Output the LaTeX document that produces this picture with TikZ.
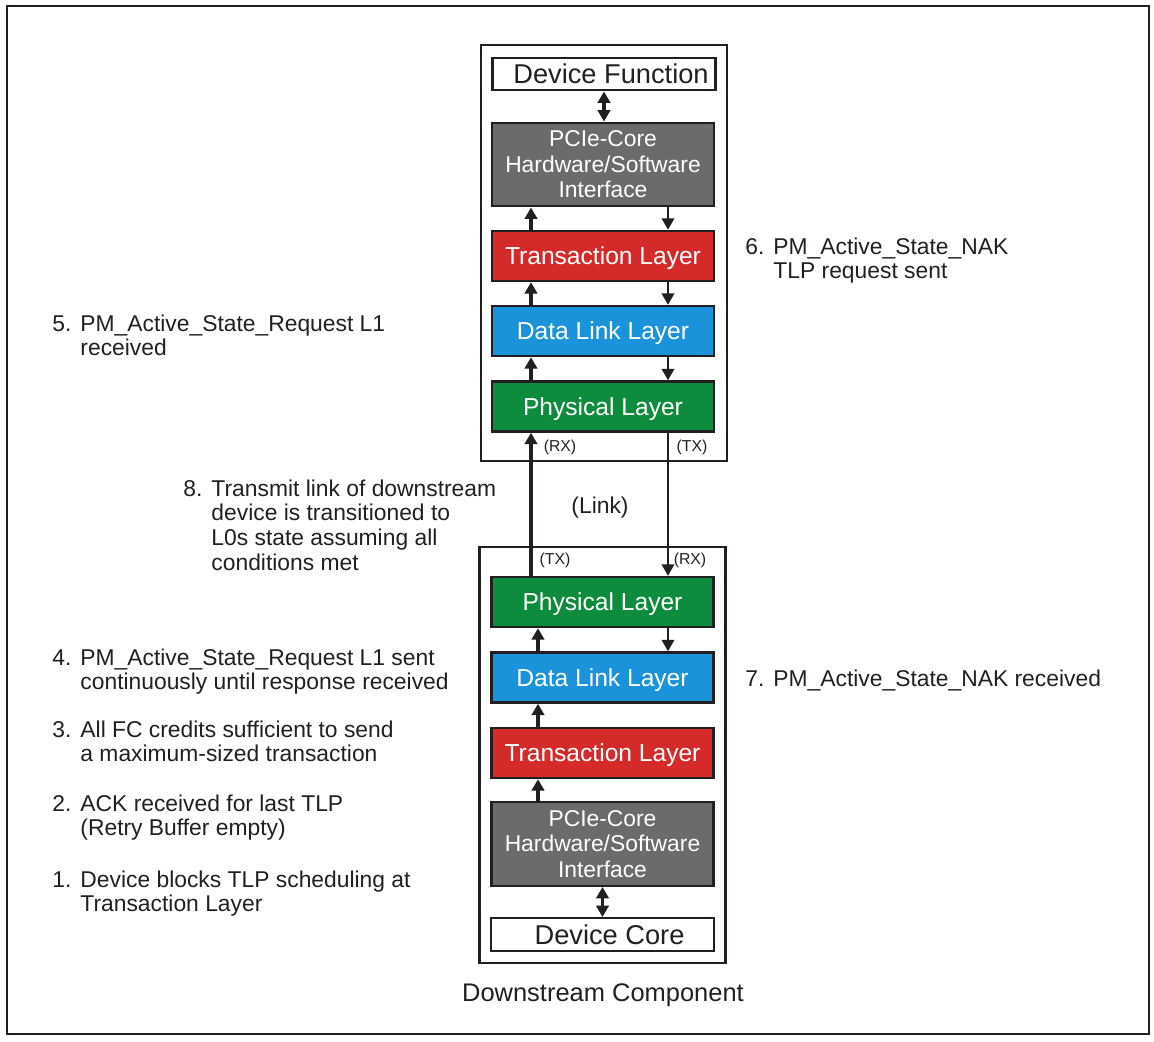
\documentclass[tikz,border=0pt]{standalone}
\usepackage{fontspec}
\setmainfont{Liberation Sans}
\usetikzlibrary{arrows.meta}
\definecolor{capagris}{RGB}{106,107,109}
\definecolor{caparoja}{RGB}{212,42,42}
\definecolor{capaazul}{RGB}{27,147,219}
\definecolor{capaverde}{RGB}{12,140,60}
\definecolor{tinta}{RGB}{35,31,32}
\newcommand{\paso}[2]{\makebox[16pt][l]{#1}\begin{tabular}[t]{@{}l@{}}#2\end{tabular}}

\begin{document}
\begin{tikzpicture}[x=0.02cm, y=-0.02cm,
  caja/.style={draw=tinta, line width=1.4pt, minimum width=4.44cm, minimum height=1cm, inner sep=0pt, text=white},
  capa/.style={caja, text height=10pt, text depth=0pt, font=\fontsize{14}{16}\selectfont},
  extremo/.style={capa, fill=white, text=tinta, minimum width=4.46cm, minimum height=0.65cm, text height=11pt, font=\fontsize{15.5}{17}\selectfont},
  interfaz/.style={caja, fill=capagris, minimum height=1.67cm, align=center, font=\fontsize{13}{14.5}\selectfont},
  marco/.style={draw=tinta, line width=1.3pt, minimum width=4.92cm, minimum height=8.32cm, inner sep=0pt},
  nota/.style={anchor=base west, inner sep=0pt, text=tinta, font=\fontsize{13}{14.2}\selectfont},
  puerto/.style={inner sep=0pt, text=tinta, font=\fontsize{9}{10}\selectfont},
  sube/.style={line width=2pt, draw=tinta, -{Triangle[length=2.3mm,width=2.5mm]}},
  baja/.style={line width=1.3pt, draw=tinta, -{Triangle[length=2.3mm,width=2.5mm]}},
  doble/.style={line width=2pt, draw=tinta, {Triangle[length=2.3mm,width=2.5mm]}-{Triangle[length=2.3mm,width=2.5mm]}}]

  \useasboundingbox (0,0) rectangle (1154,1042);

  % Marco exterior
  \draw[tinta, line width=1.5pt] (7,6) rectangle (1149,1034);

  % Cajas de los dos componentes
  \node[marco] (arriba) at (604,253) {};
  \node[marco] (abajo) at (602.5,755) {};

  % Columnas de las flechas
  \coordinate (izq1) at (531,0);
  \coordinate (der1) at (668,0);
  \coordinate (izq2) at (538,0);

  % Pila de arriba
  \node[extremo] (funcion) at (604,74) {\hspace*{8pt}Device Function};
  \node[interfaz] (nucleo1) at (603,164.5) {PCIe-Core\\Hardware/Software\\Interface};
  \node[capa, fill=caparoja] (trans1) at (603,256) {Transaction Layer};
  \node[capa, fill=capaazul] (enlace1) at (603,331) {Data Link Layer};
  \node[capa, fill=capaverde] (fisica1) at (603,406.5) {Physical Layer};

  % Pila de abajo
  \node[capa, fill=capaverde] (fisica2) at (602.5,602) {Physical Layer};
  \node[capa, fill=capaazul] (enlace2) at (602.5,677.5) {Data Link Layer};
  \node[capa, fill=caparoja] (trans2) at (602.5,753) {Transaction Layer};
  \node[interfaz] (nucleo2) at (602.5,844) {PCIe-Core\\Hardware/Software\\Interface};
  \node[extremo] (nucleo) at (602.5,934.5) {\hspace*{8pt}Device Core};

  % Flechas de arriba
  \draw[doble] (funcion.south) -- (funcion.south |- nucleo1.north);
  \draw[sube] (trans1.north -| izq1) -- (nucleo1.south -| izq1);
  \draw[baja] (nucleo1.south -| der1) -- (trans1.north -| der1);
  \draw[sube] (enlace1.north -| izq1) -- (trans1.south -| izq1);
  \draw[baja] (trans1.south -| der1) -- (enlace1.north -| der1);
  \draw[sube] (fisica1.north -| izq1) -- (enlace1.south -| izq1);
  \draw[baja] (enlace1.south -| der1) -- (fisica1.north -| der1);

  % Enlace entre componentes
  \draw[sube] (fisica2.north -| izq1) -- (fisica1.south -| izq1);
  \draw[baja] (fisica1.south -| der1) -- (fisica2.north -| der1);
  \node[puerto] (rx1) at (560,447) {(RX)};
  \node[puerto] (tx1) at (692,447) {(TX)};
  \node[puerto] (tx2) at (555,560) {(TX)};
  \node[puerto] (rx2) at (690,560) {(RX)};
  \node[inner sep=0pt, text=tinta, font=\fontsize{13}{14}\selectfont] (canal) at (600,508) {(Link)};

  % Flechas de abajo
  \draw[sube] (enlace2.north -| izq2) -- (fisica2.south -| izq2);
  \draw[baja] (fisica2.south -| der1) -- (enlace2.north -| der1);
  \draw[sube] (trans2.north -| izq2) -- (enlace2.south -| izq2);
  \draw[sube] (nucleo2.north -| izq2) -- (trans2.south -| izq2);
  \draw[doble] (nucleo2.south) -- (nucleo2.south |- nucleo.north);

  % Pasos a la izquierda
  \node[nota] (n5) at (52,331) {\paso{5.}{PM\_Active\_State\_Request L1\\received}};
  \node[nota] (n8) at (183,496) {\paso{8.}{Transmit link of downstream\\device is transitioned to\\L0s state assuming all\\conditions met}};
  \node[nota] (n4) at (52,665) {\paso{4.}{PM\_Active\_State\_Request L1 sent\\continuously until response received}};
  \node[nota] (n3) at (52,737) {\paso{3.}{All FC credits sufficient to send\\a maximum-sized transaction}};
  \node[nota] (n2) at (52,811) {\paso{2.}{ACK received for last TLP\\(Retry Buffer empty)}};
  \node[nota] (n1) at (52,887) {\paso{1.}{Device blocks TLP scheduling at\\Transaction Layer}};

  % Pasos a la derecha
  \node[nota] (n6) at (745,254) {\paso{6.}{PM\_Active\_State\_NAK\\TLP request sent}};
  \node[nota] (n7) at (745,686) {\paso{7.}{PM\_Active\_State\_NAK received}};

  % Titulo
  \node[anchor=base, inner sep=0pt, text=tinta, font=\fontsize{14.5}{16}\selectfont] (titulo) at (603,1001) {Downstream Component};

\end{tikzpicture}
\end{document}
